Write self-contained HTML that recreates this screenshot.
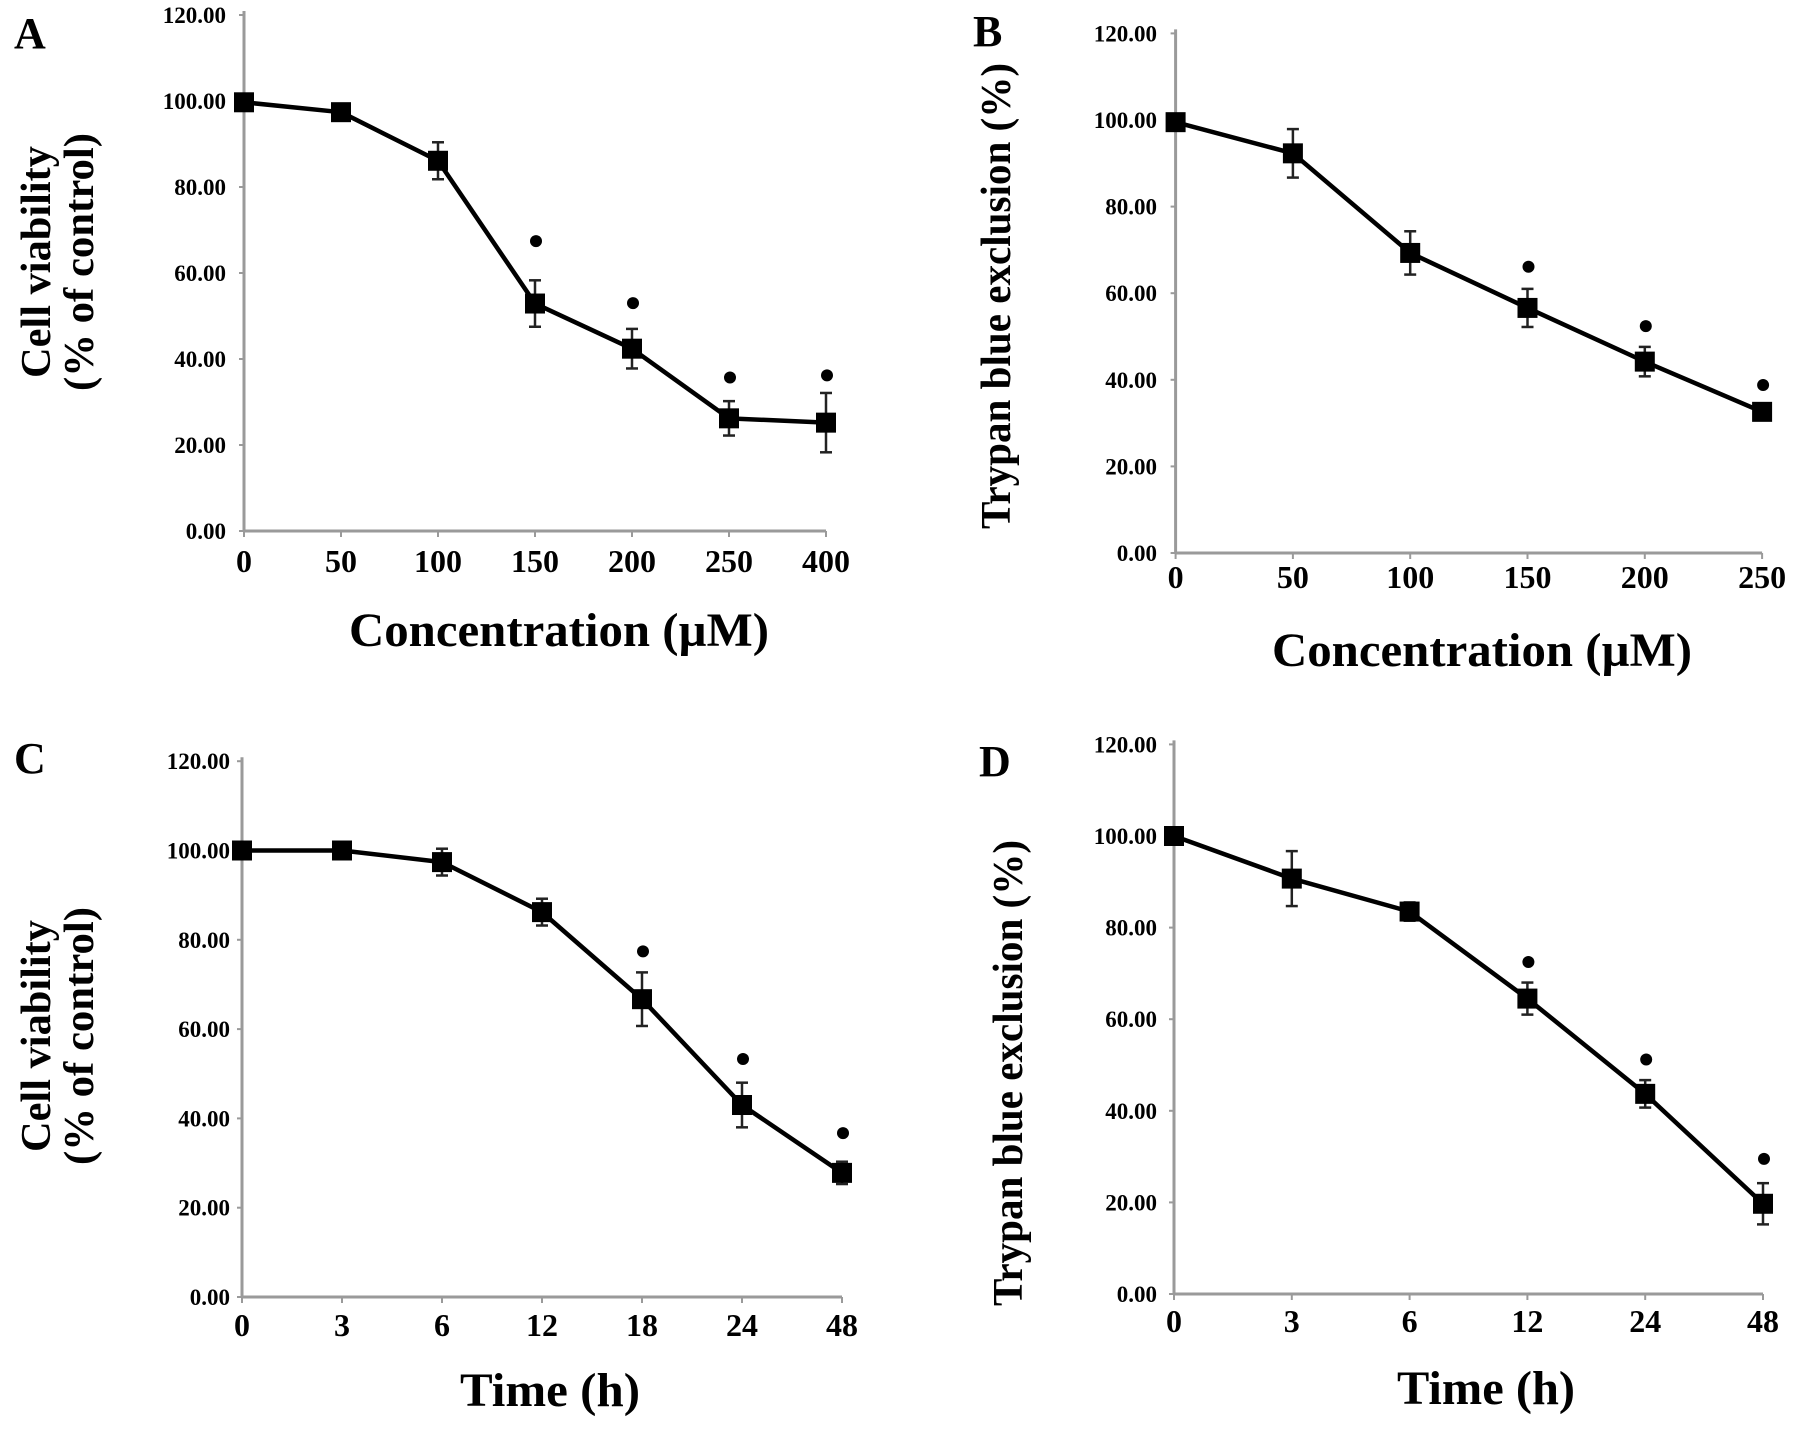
<!DOCTYPE html>
<html><head><meta charset="utf-8"><style>
html,body{margin:0;padding:0;background:#fff;}
svg{display:block;}
text{font-family:"Liberation Serif",serif;font-weight:bold;fill:#000;}
</style></head><body>
<svg id="fig" width="1795" height="1429" viewBox="0 0 1795 1429" xmlns="http://www.w3.org/2000/svg"></svg>
<script>
const yTickLabels = ["0.00","20.00","40.00","60.00","80.00","100.00","120.00"];
const yTickValues = [0,20,40,60,80,100,120];

const catA = ["0","50","100","150","200","250","400"];
const valA = [99.7,97.4,86.1,52.9,42.4,26.2,25.2];
const errA = [1,1,4.3,5.4,4.6,4,6.9];
const starA = [null,null,null,67.4,53,35.7,36.2];

const catB = ["0","50","100","150","200","250"];
const valB = [99.5,92.3,69.3,56.6,44.2,32.6];
const errB = [1,5.6,5,4.4,3.4,1];
const starB = [null,null,null,66.1,52.4,38.8];

const catC = ["0","3","6","12","18","24","48"];
const valC = [100,100,97.4,86.2,66.7,43,27.8];
const errC = [1,1,3,3,6,5,2.5];
const starC = [null,null,null,null,77.4,53.3,36.7];

const catD = ["0","3","6","12","24","48"];
const valD = [100,90.7,83.5,64.5,43.7,19.7];
const errD = [1,6,2,3.5,3,4.5];
const starD = [null,null,null,72.5,51.2,29.5];

const NS = "http://www.w3.org/2000/svg";
const svg = document.getElementById('fig');
function mk(tag, attrs, parent){
  const e = document.createElementNS(NS, tag);
  for (const k in attrs) e.setAttribute(k, attrs[k]);
  (parent||svg).appendChild(e);
  return e;
}

const panels = [
  {id:'a', letter:'A', lx:14, ly:48, cats:catA, vals:valA, errs:errA, stars:starA,
   x0:244, step:97, y0:531, ppu:4.3, tickY:572, yLabX:226,
   xt:"Concentration (µM)", xtX:559, xtY:646, xtW:420,
   yt:["Cell viability","(% of control)"], ytX:[50,93], ytY:262, ytW:[232,258]},
  {id:'b', letter:'B', lx:973, ly:46, cats:catB, vals:valB, errs:errB, stars:starB,
   x0:1175.6, step:117.3, y0:553, ppu:4.33, tickY:588, yLabX:1157,
   xt:"Concentration (µM)", xtX:1482, xtY:666, xtW:420,
   yt:["Trypan blue exclusion (%)"], ytX:[1010], ytY:296, ytW:[466]},
  {id:'c', letter:'C', lx:14, ly:773, cats:catC, vals:valC, errs:errC, stars:starC,
   x0:242, step:100, y0:1297, ppu:4.465, tickY:1336, yLabX:230,
   xt:"Time (h)", xtX:550, xtY:1406, xtW:180,
   yt:["Cell viability","(% of control)"], ytX:[50,93], ytY:1036, ytW:[232,258]},
  {id:'d', letter:'D', lx:979, ly:776, cats:catD, vals:valD, errs:errD, stars:starD,
   x0:1174, step:117.8, y0:1294, ppu:4.58, tickY:1332, yLabX:1157,
   xt:"Time (h)", xtX:1486, xtY:1404, xtW:178,
   yt:["Trypan blue exclusion (%)"], ytX:[1022], ytY:1073, ytW:[466]}
];

panels.forEach(p => {
  const g = mk('g', {});
  
  
  const xs = i => p.x0 + i * p.step;
  const ys = v => p.y0 - v * p.ppu;
  const lastX = xs(p.cats.length - 1);

  const lt = mk('text', {x:p.lx, y:p.ly, 'font-size':44}, g);
  lt.textContent = p.letter;
  
  

  const ya = mk('line', {x1:p.x0, y1:p.y0, x2:p.x0, y2:ys(120)-4, stroke:'#9a9a9a', 'stroke-width':3}, g);
  
  
  const xa = mk('line', {x1:p.x0, y1:p.y0, x2:lastX, y2:p.y0, stroke:'#9a9a9a', 'stroke-width':3}, g);
  
  

  yTickValues.forEach((v, i) => {
    mk('line', {x1:p.x0-5, y1:ys(v), x2:p.x0, y2:ys(v), stroke:'#9a9a9a', 'stroke-width':2}, g);
    const t = mk('text', {x:p.yLabX, y:ys(v)+8, 'font-size':23, 'text-anchor':'end'}, g);
    t.textContent = yTickLabels[i];
    
    
  });
  p.cats.forEach((c, i) => {
    mk('line', {x1:xs(i), y1:p.y0, x2:xs(i), y2:p.y0+6, stroke:'#9a9a9a', 'stroke-width':2}, g);
    const t = mk('text', {x:xs(i), y:p.tickY, 'font-size':32, 'text-anchor':'middle'}, g);
    t.textContent = c;
    
    
  });

  const xt = mk('text', {x:p.xtX, y:p.xtY, 'font-size':48, 'text-anchor':'middle', textLength:p.xtW, lengthAdjust:'spacingAndGlyphs'}, g);
  xt.textContent = p.xt;
  
  

  p.yt.forEach((s, k) => {
    const t = mk('text', {x:0, y:0, 'font-size':42, 'text-anchor':'middle', textLength:p.ytW[k], lengthAdjust:'spacingAndGlyphs',
      transform:`translate(${p.ytX[k]},${p.ytY}) rotate(-90)`}, g);
    t.textContent = s;
    
    
  });

  p.vals.forEach((v, i) => {
    const x = xs(i);
    const eg = mk('g', {stroke:'#222', 'stroke-width':2.5}, g);
    
    
    mk('line', {x1:x, y1:ys(v+p.errs[i]), x2:x, y2:ys(v-p.errs[i])}, eg);
    mk('line', {x1:x-6, y1:ys(v+p.errs[i]), x2:x+6, y2:ys(v+p.errs[i])}, eg);
    mk('line', {x1:x-6, y1:ys(v-p.errs[i]), x2:x+6, y2:ys(v-p.errs[i])}, eg);
  });

  const pts = p.vals.map((v, i) => xs(i) + ',' + ys(v)).join(' ');
  const ln = mk('polyline', {points:pts, fill:'none', stroke:'#000', 'stroke-width':4.5, 'stroke-linejoin':'round'}, g);
  
  

  p.vals.forEach((v, i) => {
    const r = mk('rect', {x:xs(i)-10, y:ys(v)-10, width:20, height:20, fill:'#000'}, g);
    
    
  });

  p.stars.forEach((s, i) => {
    if (s === null) return;
    const c = mk('circle', {cx:xs(i)+1, cy:ys(s), r:6, fill:'#000'}, g);
    
    
  });
});
</script>
</body></html>
